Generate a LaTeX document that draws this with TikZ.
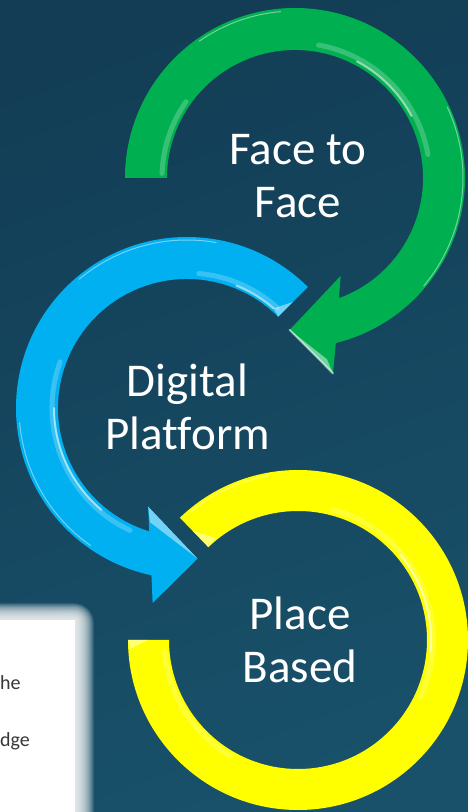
\documentclass[tikz,border=0pt]{standalone}
\usepackage{fontspec}
\setmainfont{Carlito}[Ligatures=NoCommon]
\definecolor{bgtop}{RGB}{18,61,85}
\definecolor{bgbot}{RGB}{25,81,106}
\definecolor{ringgreen}{RGB}{0,176,80}
\definecolor{ringblue}{RGB}{0,176,240}
\definecolor{ringyellow}{RGB}{255,255,0}
\definecolor{notegray}{RGB}{55,55,55}
\begin{document}
\begin{tikzpicture}[
  gloss/.style={white, line width=5pt, opacity=0.22, line cap=round},
  shine/.style={white, line width=2pt, opacity=0.55, line cap=round},
  rim/.style={white, line width=1pt, opacity=0.45, line cap=round},
  facet/.style={white, opacity=0.45},
  label/.style={text=white, font=\fontsize{47}{53}\selectfont, align=center, inner sep=0pt, anchor=base},
  note/.style={text=notegray, font=\fontsize{20}{24}\selectfont, inner sep=0pt, anchor=base west},
]
\useasboundingbox (0,0) rectangle (468pt,812pt);
\clip (0,0) rectangle (468pt,812pt);

% background
\shade[top color=bgtop, bottom color=bgbot, shading angle=20] (-20pt,-20pt) rectangle (488pt,832pt);

% note card with a soft, blurred edge (stacked translucent layers)
\foreach \k in {1,...,40}
  \fill[white, opacity=0.06, rounded corners={\k*0.5pt}]
    (-60pt,-60pt) rectangle ({74pt+\k*0.5pt}, {191pt+\k*0.45pt});
\fill[white] (-60pt,-60pt) rectangle (75pt,192pt);
\node[note] (noteA) at (0pt,122pt) {he};
\node[note] (noteB) at (0pt,65pt) {dge};

% green circular arrow
\begin{scope}[shift={(295pt,634pt)}]
  \fill[ringgreen] (180:170pt) arc[start angle=180, end angle=-76.1, radius=170pt]
    -- (-79:199pt) -- (-92:152pt) -- (-65:108pt) -- (-69.9:128pt)
    arc[start angle=-69.9, end angle=180, radius=128pt] -- cycle;
  \draw[gloss] (10:135pt) arc[start angle=10, end angle=80, radius=135pt];
  \draw[shine] (28:132pt) arc[start angle=28, end angle=62, radius=132pt];
  \draw[rim] (-40:168pt) arc[start angle=-40, end angle=25, radius=168pt];
  \draw[gloss] (145:133pt) arc[start angle=145, end angle=178, radius=133pt];
  \draw[rim] (95:167pt) arc[start angle=95, end angle=125, radius=167pt];
  \fill[facet] (-92:152pt) -- (-79:199pt) -- (-80:184pt) -- cycle;
  \draw[shine] (-92:152pt) -- (-79:199pt);
\end{scope}

% blue circular arrow
\begin{scope}[shift={(187pt,404pt)}]
  \fill[ringblue] (45:171pt) arc[start angle=45, end angle=258, radius=171pt]
    -- (260:198pt) -- (274:151pt) -- (248.5:106pt) -- (253:129pt)
    arc[start angle=253, end angle=45, radius=129pt] -- cycle;
  \draw[gloss] (48:135pt) arc[start angle=48, end angle=85, radius=135pt];
  \draw[shine] (49:132pt) arc[start angle=49, end angle=68, radius=132pt];
  \draw[gloss] (160:135pt) arc[start angle=160, end angle=245, radius=135pt];
  \draw[shine] (180:133pt) arc[start angle=180, end angle=230, radius=133pt];
  \draw[rim] (80:168pt) arc[start angle=80, end angle=130, radius=168pt];
  \draw[rim] (185:168pt) arc[start angle=185, end angle=235, radius=168pt];
  \fill[facet] (45:129pt) -- (45:150pt) -- (49:132pt) -- cycle;
  \fill[facet] (274:151pt) -- (248.5:106pt) -- (252:120pt) -- cycle;
\end{scope}

% yellow ring
\begin{scope}[shift={(298pt,172pt)}]
  \fill[ringyellow] (180:170pt) arc[start angle=180, end angle=494, radius=170pt]
    -- (494:129pt) arc[start angle=494, end angle=180, radius=129pt] -- cycle;
  \draw[gloss] (-25:135pt) arc[start angle=-25, end angle=75, radius=135pt];
  \draw[shine] (-5:133pt) arc[start angle=-5, end angle=40, radius=133pt];
  \draw[gloss] (185:134pt) arc[start angle=185, end angle=240, radius=134pt];
  \draw[rim] (100:167pt) arc[start angle=100, end angle=130, radius=167pt];
  \fill[facet] (494:129pt) -- (494:152pt) -- (489:131pt) -- cycle;
  \fill[facet] (180:170pt) -- (180:150pt) -- (183:168pt) -- cycle;
\end{scope}

% labels (anchored on the baseline of the last line)
\node[label] (f2f) at (298pt,594pt) {Face to\\Face};
\node[label] (dig) at (187.5pt,362pt) {Digital\\Platform};
\node[label] (place) at (300pt,129pt) {Place\\Based};
\end{tikzpicture}
\end{document}
